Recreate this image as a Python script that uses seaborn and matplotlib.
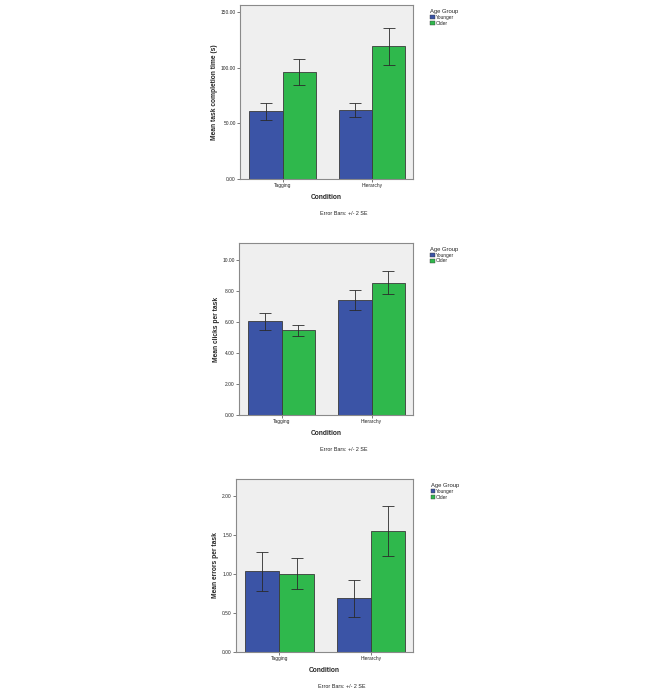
import numpy as np
import pandas as pd
import matplotlib
matplotlib.use("Agg")
import matplotlib.pyplot as plt
import seaborn as sns
from matplotlib.patches import Patch

# --- data ---
conditions = ["Tagging", "Hierarchy"]
groups = ["Younger", "Older"]

time_mean = {"Younger": [61.0, 62.4], "Older": [96.2, 119.2]}
time_lo = {"Younger": [53.0, 55.3], "Older": [84.3, 102.8]}
time_hi = {"Younger": [68.7, 68.7], "Older": [108.2, 136.0]}

clicks_mean = {"Younger": [6.08, 7.44], "Older": [5.50, 8.56]}
clicks_lo = {"Younger": [5.52, 6.81], "Older": [5.13, 7.84]}
clicks_hi = {"Younger": [6.62, 8.10], "Older": [5.84, 9.29]}

errors_mean = {"Younger": [1.034, 0.688], "Older": [1.004, 1.551]}
errors_lo = {"Younger": [0.786, 0.444], "Older": [0.803, 1.231]}
errors_hi = {"Younger": [1.278, 0.927], "Older": [1.205, 1.876]}

time_ticks = [0, 50, 100, 150]
clicks_ticks = [0, 2, 4, 6, 8, 10]
errors_ticks = [0, 0.5, 1.0, 1.5, 2.0]

BLUE = "#3b54a6"
GREEN = "#2fb84c"
BG = "#efefef"

sns.set_style("white")
plt.rcParams["font.family"] = ["Liberation Sans", "DejaVu Sans"]

fig = plt.figure(figsize=(6.66, 6.99), dpi=100)

panels = [
    # (means, lo, hi, ylabel, ticks, ymax, axes rect)
    (time_mean, time_lo, time_hi, "Mean task completion time (s)", time_ticks, 156.3,
     [0.3604, 0.7439, 0.2598, 0.2489]),
    (clicks_mean, clicks_lo, clicks_hi, "Mean clicks per task", clicks_ticks, 11.12,
     [0.3589, 0.4063, 0.2613, 0.2461]),
    (errors_mean, errors_lo, errors_hi, "Mean errors per task", errors_ticks, 2.218,
     [0.3544, 0.0672, 0.2658, 0.2475]),
]

for means, lo, hi, ylabel, ticks, ymax, rect in panels:
    df = pd.DataFrame({
        "Condition": conditions * 2,
        "Age Group": [g for g in groups for _ in conditions],
        "value": means["Younger"] + means["Older"],
    })
    ax = fig.add_axes(rect)
    ax.set_facecolor(BG)
    sns.barplot(data=df, x="Condition", y="value", hue="Age Group",
                order=conditions, hue_order=groups,
                palette=[BLUE, GREEN], width=0.745, gap=0,
                edgecolor="#3a3a3a", linewidth=0.6, saturation=1,
                errorbar=None, legend=False, ax=ax)

    # error bars: +/- 2 SE, centred on each bar
    for cont, g in zip(ax.containers, groups):
        xs = [p.get_x() + p.get_width() / 2 for p in cont.patches]
        m = np.array(means[g])
        yerr = [m - np.array(lo[g]), np.array(hi[g]) - m]
        ax.errorbar(xs, m, yerr=yerr, fmt="none", ecolor="#2a2a2a",
                    elinewidth=0.6, capsize=4.5, capthick=0.6, zorder=5)

    ax.set_xlim(-0.475, 1.46)
    ax.set_ylim(0, ymax)
    ax.set_yticks(ticks)
    ax.set_yticklabels([f"{t:.2f}" for t in ticks])
    ax.tick_params(axis="both", direction="out", length=2, width=0.5,
                   labelsize=3.5, pad=1, left=True, bottom=True, color="#444444")
    for s in ax.spines.values():
        s.set_color("#8a8a8a")
        s.set_linewidth(0.8)
    ax.set_ylabel(ylabel, fontsize=4.8, fontweight="bold", labelpad=2)
    ax.set_xlabel("Condition", fontsize=4.8, fontweight="bold", labelpad=4)

    # caption under the plot
    ax.text(0.6, -0.185, "Error Bars: +/- 2 SE", transform=ax.transAxes,
            ha="center", va="top", fontsize=3.9, color="#222222")

    # legend outside on the right
    handles = [Patch(facecolor=BLUE, edgecolor="#3a3a3a", linewidth=0.3),
               Patch(facecolor=GREEN, edgecolor="#3a3a3a", linewidth=0.3)]
    leg = ax.legend(handles, groups, title="Age Group", loc="upper left",
                    bbox_to_anchor=(1.1, 0.975), frameon=False,
                    fontsize=3.5, title_fontsize=4.2, handlelength=0.9,
                    handleheight=0.9, handletextpad=0.2, labelspacing=0.12,
                    borderaxespad=0, borderpad=0)
    leg._legend_box.align = "left"

fig.savefig("out.png", dpi=100, facecolor="white")
